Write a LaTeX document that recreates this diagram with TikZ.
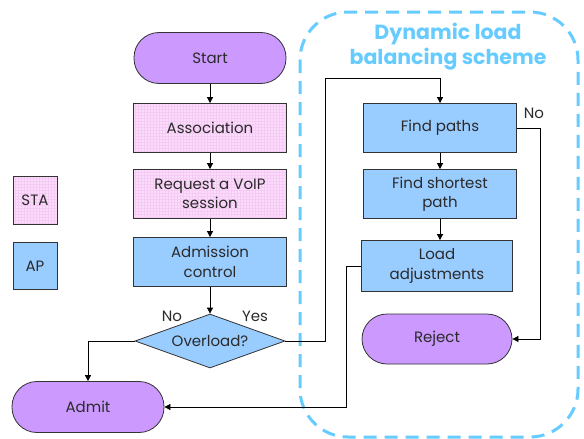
\documentclass[tikz,border=0pt]{standalone}
\usepackage{fontspec}
\setmainfont{Poppins}
\usetikzlibrary{arrows.meta,shapes.geometric,patterns}
\definecolor{pinkfill}{HTML}{FBDDFB}
\definecolor{pinkgrid}{HTML}{F5CAF5}
\definecolor{bluefill}{HTML}{99CCFF}
\definecolor{purplefill}{HTML}{CC99FF}
\definecolor{dashblue}{HTML}{66CCFF}
\definecolor{txt}{HTML}{2A2A2A}
\tikzset{
  every node/.style={font=\fontsize{15}{19.5}\selectfont, text=txt},
  stabox/.style={draw=black!80, line width=0.8pt, minimum width=153pt, minimum height=49pt, align=center, preaction={fill=pinkfill}, pattern=grid, pattern color=pinkgrid},
  apbox/.style={draw=black!80, line width=0.8pt, fill=bluefill, minimum width=153pt, minimum height=49pt, align=center},
  pill/.style={draw=black!80, line width=0.8pt, fill=purplefill, rounded corners=25pt, minimum width=152pt, minimum height=51pt, align=center},
  conn/.style={draw=black, line width=0.8pt, -{Triangle[length=6pt,width=6pt]}},
  lbl/.style={font=\fontsize{15}{17}\selectfont},
}
\begin{document}
\begin{tikzpicture}[x=1pt,y=-1pt]
\useasboundingbox (0,0) rectangle (584,439);
% dashed region
\draw[dashblue, line width=3pt, dash pattern=on 13pt off 8pt, rounded corners=48pt] (300,12) rectangle (578,437);
\node[font=\bfseries\fontsize{20.5}{25}\selectfont, text=dashblue, align=center] (title) at (448,47) {Dynamic load\\balancing scheme};
% left column
\node[pill] (start) at (210,58) {Start};
\node[stabox] (assoc) at (210,128) {Association};
\node[stabox] (req) at (210,194) {Request a VoIP\\session};
\node[apbox] (adm) at (210,262) {Admission\\control};
\node[diamond, draw=black!80, line width=0.8pt, fill=bluefill, minimum width=150pt, minimum height=54pt, inner sep=0pt, aspect=2.8] (ovl) at (210,341) {Overload?};
\node[pill] (admit) at (88,407) {Admit};
% legend
\node[stabox, minimum width=44pt, minimum height=48pt] (sta) at (35,200) {STA};
\node[apbox, minimum width=44pt, minimum height=47pt] (ap) at (35,266) {AP};
% right column
\node[apbox] (fp) at (440,128) {Find paths};
\node[apbox] (fsp) at (440,194) {Find shortest\\path};
\node[apbox, minimum width=151pt, minimum height=51pt] (la) at (437,266) {Load\\adjustments};
\node[pill, minimum width=150pt, minimum height=50pt] (rej) at (437,339) {Reject};
% labels
\node[lbl] (no1) at (172,316) {No};
\node[lbl] (yes1) at (255,316) {Yes};
\node[lbl] (no2) at (534,113) {No};
% connectors
\draw[conn] (start) -- (assoc);
\draw[conn] (assoc) -- (req);
\draw[conn] (req) -- (adm);
\draw[conn] (adm) -- (ovl.north);
\draw[conn] (ovl.west) -| (admit.north);
\coordinate (c1) at (325,78);
\draw[conn] (ovl.east) -| (c1) -| (fp.north);
\draw[conn] (fp) -- (fsp);
\draw[conn] (fsp.south) -- (fsp.south |- la.north);
\coordinate (c2) at (540,128);
\draw[conn] (fp.east) -- (c2) |- (rej.east);
\coordinate (c3) at (346,266);
\draw[conn] (la.west) -- (c3) |- (admit.east);
\end{tikzpicture}
\end{document}
